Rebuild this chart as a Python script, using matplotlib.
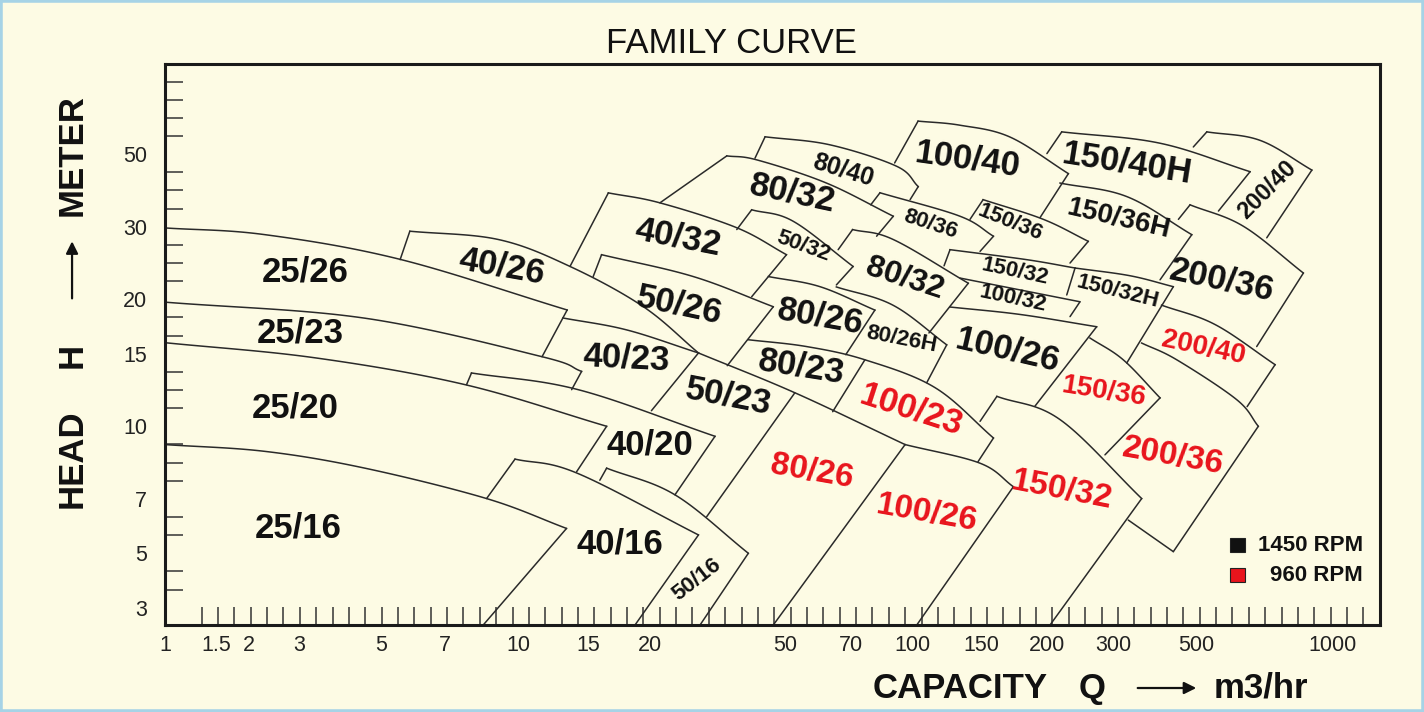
import numpy as np
import matplotlib
matplotlib.use("Agg")
import matplotlib.pyplot as plt
from matplotlib.patches import Rectangle, FancyArrowPatch

# ---------------- axis scales (hand drawn chart, non uniform log scale) -------------
X_LABELS = [1, 1.5, 2, 3, 5, 7, 10, 15, 20, 50, 70, 100, 150, 200, 300, 500, 1000]
X_LABEL_POS = [-2.24, 0.92, 2.91, 5.97, 10.96, 14.87, 19.33, 23.61, 27.40, 35.65,
               39.68, 43.46, 47.68, 51.69, 55.72, 60.78, 69.13]
Y_LABELS = [3, 5, 7, 10, 15, 20, 30, 50]
Y_LABEL_POS = [0, 3, 6, 10, 14, 17, 21, 25]

# ---------------- pump family outlines  (Q m3/hr, H m) ----------------
EDGES_25 = [
    [(1, 29.8), (2.27, 28.7), (5.53, 25.0), (13.3, 18.9)],
    [(13.3, 18.9), (11.5, 14.75)],
    [(1, 19.7), (4.52, 18.1), (11.47, 14.76), (14.46, 13.59)],
    [(14.46, 13.59), (13.65, 12.27)],
    [(1, 15.9), (3.31, 14.66), (7.72, 12.62), (16.36, 10.0)],
    [(16.36, 10.0), (14.05, 8.0)],
    [(1, 9.14), (2.27, 8.84), (4.52, 8.14), (8.58, 7.01), (13.25, 5.83)],
    [(13.25, 5.83), (8.44, 2.55)],
]
EDGES_40 = [
    [(9.86, 8.51), (8.58, 7.01)],
    [(9.86, 8.51), (14.05, 7.95), (27.8, 5.6)],
    [(27.8, 5.6), (18.66, 2.55)],
    [(7.97, 13.47), (14.18, 12.27), (31.1, 9.52)],
    [(7.97, 13.47), (7.78, 12.62)],
    [(31.1, 9.52), (23.7, 7.14)],
    [(5.82, 29.26), (5.53, 24.96)],
    [(5.82, 29.26), (9.09, 27.93), (13.52, 24.03), (19.4, 19.23), (27.8, 15.06)],
    [(12.98, 18.12), (17.96, 17.01), (27.8, 15.06)],
    [(16.49, 38.07), (13.52, 24.03)],
    [(16.49, 38.07), (21.4, 35.49), (36.06, 29.83), (50.4, 25.66)],
    [(50.4, 25.66), (39.9, 20.29)],
]
EDGES_50 = [
    [(16.36, 8.14), (23.7, 7.14), (39.0, 5.0)],
    [(16.36, 8.14), (15.85, 7.67)],
    [(39.0, 5.0), (28.1, 2.55)],
    [(15.98, 25.66), (15.37, 22.71)],
    [(15.98, 25.66), (26.84, 22.71), (46.2, 19.23)],
    [(46.2, 19.23), (33.8, 14.03)],
    [(27.8, 15.06), (20.2, 10.91)],
    [(27.8, 15.06), (52.6, 12.06), (95.7, 9.14)],
    [(39.9, 33.8), (36.06, 29.53)],
    [(39.9, 33.8), (52.1, 31.2), (70.9, 24.03)],
    [(70.9, 24.03), (65.0, 21.67)],
]
EDGES_80 = [
    [(33.7, 49.4), (21.4, 35.49)],
    [(33.7, 49.4), (41.4, 48.0), (61.8, 40.8), (89.4, 32.3)],
    [(89.4, 32.3), (81.2, 28.45)],
    [(70.7, 29.53), (65.6, 26.39)],
    [(70.7, 29.53), (89.4, 27.93), (138.6, 21.88)],
    [(138.6, 21.88), (110.0, 16.74)],
    [(44.7, 22.71), (59.8, 21.46), (80.4, 18.89)],
    [(80.4, 18.89), (68.2, 14.92)],
    [(65.0, 21.43), (89.2, 19.39), (122.1, 15.72)],
    [(122.1, 15.72), (108.6, 12.76)],
    [(39.0, 16.15), (55.8, 15.58), (75.9, 14.5), (114.0, 12.41), (157.9, 9.44)],
    [(75.9, 14.5), (63.8, 10.85)],
    [(43.7, 56.5), (40.8, 48.6)],
    [(43.7, 56.5), (62.9, 53.4), (91.2, 45.9), (103.3, 39.8)],
    [(103.3, 39.8), (98.5, 36.3)],
    [(82.8, 38.1), (78.5, 35.0)],
    [(82.8, 38.1), (132.0, 32.3), (157.9, 28.45)],
    [(157.9, 28.45), (148.5, 26.14)],
    [(52.6, 12.06), (29.4, 6.27)],
    [(95.7, 9.14), (46.2, 2.55)],
]
EDGES_100 = [
    [(157.9, 9.44), (146.7, 8.40)],
    [(95.7, 9.14), (148.5, 8.34), (172.3, 7.43)],
    [(172.3, 7.43), (102.4, 2.55)],
    [(103.2, 63.1), (90.1, 47.0)],
    [(103.2, 63.1), (132.0, 61.3), (169.8, 56.4), (227.6, 43.6)],
    [(227.6, 43.6), (193.7, 32.0)],
    [(132.0, 22.52), (244.4, 19.74)],
    [(244.4, 19.74), (229.9, 18.25)],
    [(124.5, 19.2), (177.4, 18.46), (270.8, 17.3)],
    [(270.8, 17.3), (189.3, 11.18)],
]
EDGES_150 = [
    [(218.5, 58.5), (199.6, 50.2)],
    [(218.5, 58.5), (400.3, 54.0), (657.5, 44.2)],
    [(657.5, 44.2), (560.0, 33.5)],
    [(216.2, 40.8), (325.9, 37.1), (486.9, 28.7)],
    [(486.9, 28.7), (400.3, 22.3)],
    [(150.9, 36.3), (140.0, 31.6)],
    [(150.9, 36.3), (196.5, 31.6), (257.2, 27.65)],
    [(257.2, 27.65), (229.9, 24.49)],
    [(124.5, 26.39), (120.2, 24.11)],
    [(124.5, 26.39), (182.6, 24.96), (237.1, 23.82)],
    [(237.1, 23.82), (225.3, 20.49)],
    [(237.1, 23.82), (332.8, 22.81), (434.5, 21.46)],
    [(434.5, 21.46), (325.9, 14.24)],
    [(160.3, 11.82), (148.5, 10.28)],
    [(160.3, 11.82), (216.2, 10.38), (357.4, 7.01)],
    [(357.4, 7.01), (203.3, 2.55)],
    [(259.9, 16.3), (318.9, 14.5), (400.3, 11.72)],
    [(400.3, 11.72), (285.0, 8.69)],
]
EDGES_200 = [
    [(528.0, 58.5), (491.5, 52.6)],
    [(528.0, 58.5), (691.7, 55.1), (899.6, 44.7)],
    [(899.6, 44.7), (715.6, 28.2)],
    [(481.7, 35.0), (448.3, 31.6)],
    [(481.7, 35.0), (635.5, 30.1), (861.7, 23.16)],
    [(861.7, 23.16), (680.0, 15.58)],
    [(404.1, 19.39), (550.6, 17.5), (746.5, 14.11)],
    [(746.5, 14.11), (647.7, 11.16)],
    [(357.4, 15.87), (443.7, 14.5), (614.6, 11.6), (685.6, 10.0)],
    [(685.6, 10.0), (434.5, 5.05)],
    [(434.5, 5.05), (329.0, 6.14)],
]

# text, Q, H, rotation, size, rpm
LABELS = [
    ("25/26", 3.11, 23.36, 0, 25, 1450), ("25/23", 3.01, 16.7, 0, 25, 1450),
    ("25/20", 2.90, 11.08, 0, 25, 1450), ("25/16", 2.98, 5.83, 0, 25, 1450),
    ("40/26", 9.25, 24.03, -10, 25, 1450), ("40/23", 17.96, 14.64, -3, 25, 1450),
    ("40/20", 20.0, 9.14, 0, 25, 1450), ("40/16", 17.4, 5.31, 0, 25, 1450),
    ("50/16", 27.5, 3.89, 38, 16, 1450), ("40/32", 24.2, 28.2, -11, 25, 1450),
    ("50/26", 24.5, 19.39, -12, 25, 1450), ("50/23", 34.0, 11.82, -11, 25, 1450),
    ("50/32", 54.8, 26.9, -20, 16, 1450), ("80/32", 52.1, 38.07, -12, 25, 1450),
    ("80/40", 67.2, 44.7, -17, 18, 1450), ("80/26", 59.8, 18.25, -10, 25, 1450),
    ("80/23", 54.3, 13.97, -9, 25, 1450), ("80/26H", 94.0, 16.15, -11, 16, 1450),
    ("80/32", 95.7, 22.52, -18, 23, 1450), ("80/36", 110.7, 30.5, -18, 16, 1450),
    ("100/40", 138.4, 48.0, -8, 25, 1450), ("100/26", 168.1, 15.32, -13, 25, 1450),
    ("150/40H", 325.9, 46.9, -9, 25, 1450), ("150/36", 169.8, 30.85, -22, 16, 1450),
    ("150/36H", 309.3, 31.6, -13, 20, 1450), ("150/32", 173.4, 23.36, -12, 16, 1450),
    ("100/32", 172.3, 20.1, -12, 16, 1450), ("150/32H", 309.3, 20.86, -14, 16, 1450),
    ("200/40", 715.6, 38.9, 45, 17, 1450), ("200/36", 569.8, 22.3, -12, 25, 1450),
    ("100/23", 99.4, 10.97, -18, 25, 960), ("80/26", 57.5, 8.0, -10, 24, 960),
    ("100/26", 108.6, 6.40, -10, 24, 960), ("150/32", 218.5, 7.31, -11, 24, 960),
    ("150/36", 282.2, 12.15, -9, 20, 960), ("200/36", 434.5, 8.62, -10, 24, 960),
    ("200/40", 517.9, 15.45, -12, 20, 960),
]
RPM_LEGEND = [(1450, "1450 RPM"), (960, "960 RPM")]
RPM_COLORS = {1450: "#111111", 960: "#e8141c"}

BG = "#fdfbe4"
LINE = "#2a2a2a"


def make_funcs(vals, pos):
    lv = np.log10(np.asarray(vals, float))
    ps = np.asarray(pos, float)
    s0 = (ps[1] - ps[0]) / (lv[1] - lv[0])
    s1 = (ps[-1] - ps[-2]) / (lv[-1] - lv[-2])

    def fwd(v):
        v = np.asarray(v, float)
        with np.errstate(all="ignore"):
            l = np.log10(np.where(v > 0, v, np.nan))
        out = np.interp(l, lv, ps)
        out = np.where(l < lv[0], ps[0] + (l - lv[0]) * s0, out)
        out = np.where(l > lv[-1], ps[-1] + (l - lv[-1]) * s1, out)
        return out

    def inv(p):
        p = np.asarray(p, float)
        l = np.interp(p, ps, lv)
        l = np.where(p < ps[0], lv[0] + (p - ps[0]) / s0, l)
        l = np.where(p > ps[-1], lv[-1] + (p - ps[-1]) / s1, l)
        return 10.0 ** l

    return fwd, inv


fx, ix = make_funcs(X_LABELS, X_LABEL_POS)
fy, iy = make_funcs(Y_LABELS, Y_LABEL_POS)

plt.rcParams["font.family"] = ["Liberation Sans", "DejaVu Sans"]
fig = plt.figure(figsize=(14.24, 7.12), dpi=100, facecolor=BG)
ax = fig.add_axes([0.11587, 0.12219, 0.85323, 0.78792])
ax.set_facecolor(BG)
ax.set_xscale("function", functions=(fx, ix))
ax.set_yscale("function", functions=(fy, iy))
ax.set_xlim(1, float(ix(72.02)))
ax.set_ylim(float(iy(-0.954)), float(iy(29.97)))

# ticks
ax.set_xticks(X_LABELS)
ax.set_xticklabels([("%g" % v) for v in X_LABELS])
ax.set_yticks(Y_LABELS)
ax.set_yticklabels([("%g" % v) for v in Y_LABELS])
ax.set_xticks(ix(np.arange(0, 72)), minor=True)
ax.set_yticks(iy(np.arange(0, 30)), minor=True)
ax.tick_params(which="major", length=0, labelsize=15.5, colors="#222222", pad=7)
ax.tick_params(axis="y", which="major", pad=13)
ax.tick_params(which="minor", direction="in", length=13, width=1.1, color="#333333")
ax.xaxis.set_minor_formatter(plt.NullFormatter())
ax.yaxis.set_minor_formatter(plt.NullFormatter())
for sp in ax.spines.values():
    sp.set_linewidth(2.2)
    sp.set_color("#1a1a1a")


def catmull(P, n=24):
    ext = np.vstack([2 * P[0] - P[1], P, 2 * P[-1] - P[-2]])
    t = np.linspace(0, 1, n, endpoint=False)[:, None]
    out = []
    for i in range(1, len(ext) - 2):
        p0, p1, p2, p3 = ext[i - 1], ext[i], ext[i + 1], ext[i + 2]
        out.append(0.5 * (2 * p1 + (-p0 + p2) * t + (2 * p0 - 5 * p1 + 4 * p2 - p3) * t ** 2
                          + (-p0 + 3 * p1 - 3 * p2 + p3) * t ** 3))
    out.append(P[-1][None])
    return np.vstack(out)


def draw_edge(pts):
    q = np.array([p[0] for p in pts], float)
    h = np.array([p[1] for p in pts], float)
    if len(pts) == 2:
        ax.plot(q, h, color=LINE, lw=1.1, solid_capstyle="round")
        return
    S = catmull(np.column_stack([fx(q), fy(h)]))
    ax.plot(ix(S[:, 0]), iy(S[:, 1]), color=LINE, lw=1.1)


for group in (EDGES_25, EDGES_40, EDGES_50, EDGES_80, EDGES_100, EDGES_150, EDGES_200):
    for e in group:
        draw_edge(e)

for txt, q, h, rot, size, rpm in LABELS:
    ax.text(q, h, txt, rotation=rot, fontsize=size, fontweight="bold",
            color=RPM_COLORS[rpm], ha="center", va="center", rotation_mode="anchor")

# legend
for k, (rpm, txt) in enumerate(RPM_LEGEND):
    yy = 0.1426 - k * 0.0535
    ax.add_patch(Rectangle((0.8765, yy - 0.012), 0.0125, 0.024, transform=ax.transAxes,
                           facecolor=RPM_COLORS[rpm], edgecolor="#222222", lw=0.8))
    ax.text(0.986, yy, txt, transform=ax.transAxes, ha="right", va="center",
            fontsize=16, fontweight="bold", color="#111111")

# titles / axis names
fig.text(0.5133, 0.9396, "FAMILY CURVE", ha="center", va="center", fontsize=25,
         color="#111111")
lab = dict(fontsize=25, fontweight="bold", color="#111111")
fig.text(0.0506, 0.356, "HEAD", rotation=90, ha="center", va="center", **lab)
fig.text(0.0506, 0.501, "H", rotation=90, ha="center", va="center", **lab)
fig.text(0.0506, 0.782, "METER", rotation=90, ha="center", va="center", **lab)
fig.text(0.613, 0.0337, "CAPACITY", ha="left", va="center", **lab)
fig.text(0.7669, 0.0337, "Q", ha="center", va="center", **lab)
fig.text(0.852, 0.0337, "m3/hr", ha="left", va="center", **lab)
for (x0, y0, x1, y1) in [(0.0506, 0.577, 0.0506, 0.665), (0.797, 0.0337, 0.842, 0.0337)]:
    fig.add_artist(FancyArrowPatch((x0, y0), (x1, y1), transform=fig.transFigure,
                                   arrowstyle="-|>", mutation_scale=18, lw=1.6,
                                   color="#111111"))

# light blue outer frame of the picture
fig.add_artist(Rectangle((0, 0), 1, 1, transform=fig.transFigure, fill=False,
                         edgecolor="#a6d3e6", lw=4))

fig.savefig("out.png", dpi=100, facecolor=BG)
